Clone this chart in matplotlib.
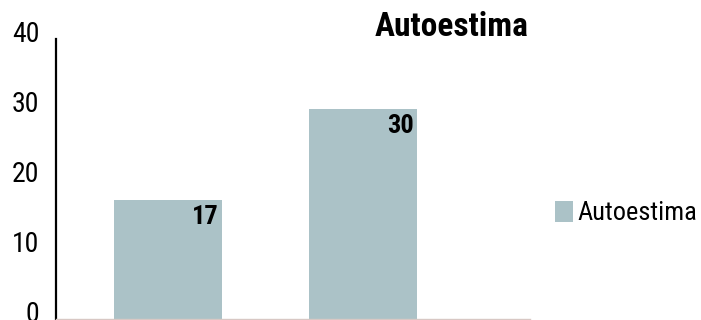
import matplotlib
matplotlib.use("Agg")
import matplotlib.pyplot as plt
import matplotlib.transforms as mtransforms

# chart data
categories = ["A", "B"]
values = [17, 30]
series_name = "Autoestima"
yticks = [0, 10, 20, 30, 40]

bar_color = "#abc2c7"
plt.rcParams["font.family"] = ["Roboto Condensed", "Liberation Sans Narrow",
                               "Liberation Sans", "DejaVu Sans"]

fig = plt.figure(figsize=(7.01, 3.2), dpi=100)
# axes spans x 56..530 px, y 39..319 px
ax = fig.add_axes([56 / 701, 1 / 320, 474 / 701, 280 / 320])

x = list(range(len(categories)))
bars = ax.bar(x, values, width=0.554, color=bar_color, label=series_name)

ax.set_xlim(-0.574, 1.856)
ax.set_ylim(0, 40)
ax.set_yticks(yticks)
ax.set_xticks([])

for side in ["top", "right"]:
    ax.spines[side].set_visible(False)
ax.spines["left"].set_linewidth(1.6)
ax.spines["left"].set_color("black")
ax.spines["bottom"].set_color("#d8c8c4")
ax.spines["bottom"].set_linewidth(1.0)

ax.tick_params(axis="y", length=0, pad=12, labelsize=20)
# nudge tick labels upward a bit
shift = mtransforms.ScaledTranslation(0, 7 / 100, fig.dpi_scale_trans)
for lbl in ax.get_yticklabels():
    lbl.set_transform(lbl.get_transform() + shift)

# value labels in the top-right corner of each bar
for rect, v in zip(bars, values):
    ax.annotate(str(v), xy=(rect.get_x() + rect.get_width(), v),
                xytext=(-2.5, -3.5), textcoords="offset points",
                ha="right", va="top", fontsize=19, fontweight="bold")

fig.text(452 / 701, 1 - 27 / 320, series_name, ha="center", va="center",
         fontsize=24, fontweight="bold")

fig.legend(handles=[bars], labels=[series_name], loc="center left",
           bbox_to_anchor=(555 / 701, 1 - 213 / 320), frameon=False,
           fontsize=19, handlelength=0.7, handleheight=0.85,
           handletextpad=0.15, borderpad=0, borderaxespad=0)

fig.savefig("out.png", dpi=100)
